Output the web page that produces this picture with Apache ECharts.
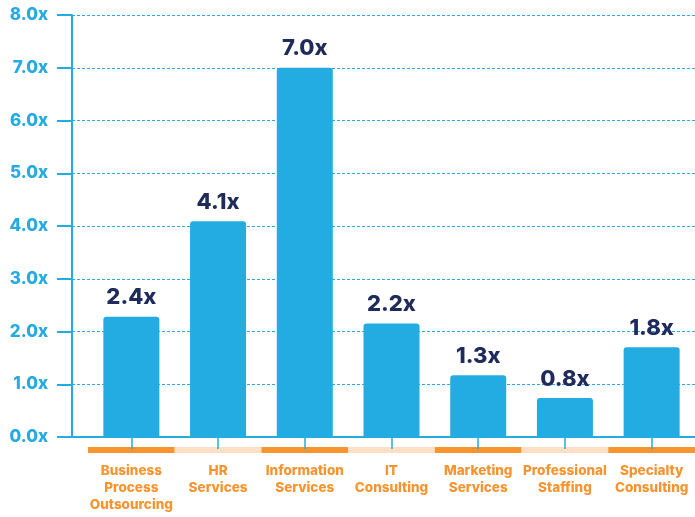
<!DOCTYPE html>
<html>
<head>
<meta charset="utf-8">
<script src="https://cdn.jsdelivr.net/npm/echarts@6/dist/echarts.min.js"></script>
<style>
  html, body { margin: 0; padding: 0; background: #fff; }
  #chart { width: 695px; height: 517px; }
</style>
</head>
<body>
<div id="chart"></div>
<script>
// data
const categories = [
  'Business\nProcess\nOutsourcing',
  'HR\nServices',
  'Information\nServices',
  'IT\nConsulting',
  'Marketing\nServices',
  'Professional\nStaffing',
  'Specialty\nConsulting'
]
const multiples = [2.28, 4.09, 7.0, 2.15, 1.17, 0.74, 1.70]
const labelTexts = ['2.4x', '4.1x', '7.0x', '2.2x', '1.3x', '0.8x', '1.8x']

const blue = '#22ace2'
const navy = '#1f2b5a'
const orange = '#f7942f'
const peach = '#fde0c4'
const font = 'Inter'

const chart = echarts.init(document.getElementById('chart'))

const option = {
  animation: false,
  grid: [
    // grid 0 : y axis + full-width x axis line
    { left: 72, right: 0, top: 15, bottom: 80 },
    // grid 1 : bars (categories start right of the y axis)
    { left: 88, right: 0, top: 15, bottom: 80 },
    // grid 2 : coloured band under the axis + category labels
    { left: 88, right: 0, top: 447, height: 6 }
  ],
  xAxis: [
    {
      gridIndex: 0,
      type: 'value',
      min: 0,
      max: 1,
      axisLine: { show: true, lineStyle: { color: blue, width: 2 } },
      axisTick: { show: false },
      axisLabel: { show: false },
      splitLine: { show: false }
    },
    {
      gridIndex: 1,
      type: 'category',
      data: categories,
      z: 5,
      axisLine: { show: false },
      axisTick: {
        show: true,
        alignWithLabel: true,
        interval: 0,
        length: 12,
        lineStyle: { color: blue, width: 1.5 }
      },
      axisLabel: { show: false }
    },
    {
      gridIndex: 2,
      type: 'category',
      data: categories,
      axisLine: { show: false },
      axisTick: { show: false },
      splitArea: {
        show: true,
        interval: 0,
        areaStyle: { color: [orange, peach] }
      },
      axisLabel: {
        interval: 0,
        margin: 9,
        color: orange,
        fontFamily: font,
        fontWeight: 800,
        fontSize: 13.5,
        lineHeight: 17
      }
    }
  ],
  yAxis: [
    {
      gridIndex: 0,
      type: 'value',
      min: 0,
      max: 8,
      interval: 1,
      axisLine: { show: true, lineStyle: { color: blue, width: 2 } },
      axisTick: { show: true, length: 15, lineStyle: { color: blue, width: 2 } },
      axisLabel: {
        margin: 24,
        color: '#27aae1',
        fontFamily: font,
        fontWeight: 800,
        fontSize: 17,
        formatter: v => v.toFixed(1) + 'x'
      },
      splitLine: {
        show: true,
        lineStyle: { color: '#27aae1', width: 1, type: [3, 2] }
      }
    },
    {
      gridIndex: 1,
      type: 'value',
      min: 0,
      max: 8,
      show: false
    },
    {
      gridIndex: 2,
      type: 'value',
      show: false
    }
  ],
  series: [
    {
      type: 'bar',
      xAxisIndex: 1,
      yAxisIndex: 1,
      barWidth: 56,
      data: multiples,
      itemStyle: {
        color: blue,
        borderRadius: [3, 3, 0, 0]
      },
      label: {
        show: true,
        position: 'top',
        distance: 8,
        color: navy,
        fontFamily: font,
        fontWeight: 800,
        fontSize: 22,
        formatter: p => labelTexts[p.dataIndex]
      }
    }
  ]
}

chart.setOption(option)
</script>
</body>
</html>
